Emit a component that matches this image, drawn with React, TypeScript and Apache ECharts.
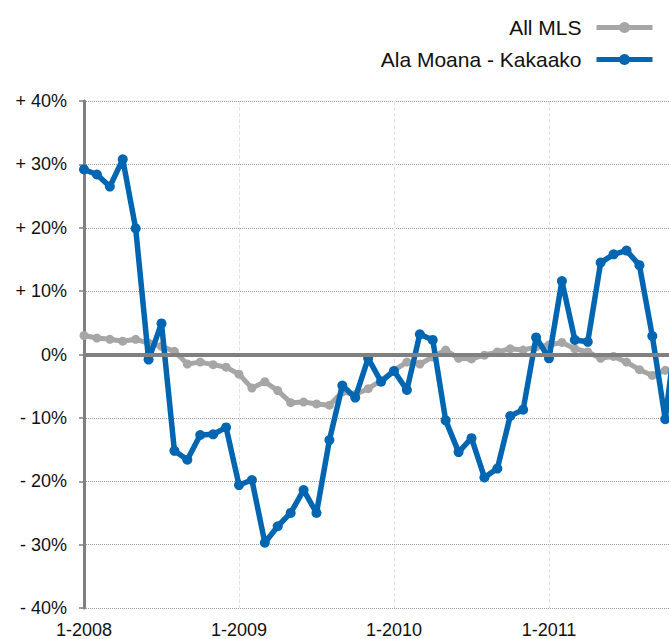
import React, { useEffect, useRef } from "react";
import * as echarts from "echarts";

const seriesNames = ["All MLS", "Ala Moana - Kakaako"];
const yearStart = 2008;
const yTicks = [-40, -30, -20, -10, 0, 10, 20, 30, 40];

// monthly values starting 1-2008 (percent change)
const allMls = [
  3.0, 2.6, 2.4, 2.1, 2.4, 1.8, 1.3, 0.5, -1.5, -1.2, -1.6, -2.0,
  -3.1, -5.3, -4.3, -5.7, -7.6, -7.5, -7.8, -8.0, -5.9, -6.3, -5.4, -4.1,
  -2.5, -1.2, -1.5, -0.4, 0.7, -0.6, -0.7, -0.1, 0.4, 0.9, 0.7, 1.2,
  1.5, 1.9, 0.9, 0.4, -0.6, -0.3, -1.2, -2.4, -3.3, -2.5, -2.3,
];
const alaMoana = [
  29.2, 28.4, 26.5, 30.8, 19.9, -0.8, 4.9, -15.2, -16.6, -12.7, -12.6, -11.5,
  -20.6, -19.8, -29.7, -27.1, -25.0, -21.4, -25.0, -13.5, -4.9, -6.8, -0.6, -4.3,
  -2.6, -5.6, 3.2, 2.3, -10.4, -15.4, -13.2, -19.4, -18.0, -9.7, -8.7, 2.7,
  -0.6, 11.6, 2.3, 2.0, 14.5, 15.8, 16.4, 14.1, 2.9, -10.2, 6.0,
];

const FONT = "'Liberation Sans', Arial, Helvetica, sans-serif";
const CHART_W = 720;

export default function App() {
  const ref = useRef<HTMLDivElement>(null);
  useEffect(() => {
    if (!ref.current) return;
    const chart = echarts.init(ref.current, null, { renderer: "svg", width: CHART_W, height: 639 });
    const fmtY = (v: number) => (v > 0 ? "+ " + v + "%" : v < 0 ? "- " + Math.abs(v) + "%" : "0%");
    chart.setOption({
      animation: false,
      backgroundColor: "#ffffff",
      textStyle: { fontFamily: FONT },
      legend: {
        orient: "vertical",
        right: 14 + (CHART_W - 669) - 5,
        top: 12,
        align: "right",
        itemWidth: 56,
        itemHeight: 14,
        itemGap: 11,
        data: seriesNames,
        lineStyle: { width: 5 },
        textStyle: { fontSize: 21, color: "#111", fontFamily: FONT, padding: [0, 10, 0, 0] },
      },
      grid: { left: 84, width: 620, top: 101, bottom: 31, containLabel: false },
      xAxis: {
        type: "value",
        min: 0,
        max: 48,
        interval: 12,
        axisLine: { show: false },
        axisTick: { show: false },
        axisLabel: {
          fontSize: 18,
          color: "#111",
          margin: 13,
          fontFamily: FONT,
          formatter: (v: number) => (v >= 48 ? "" : "1-" + (yearStart + v / 12)),
        },
        splitLine: { show: true, lineStyle: { color: "#e4e4e4", type: "dashed", width: 1 } },
      },
      yAxis: {
        type: "value",
        min: yTicks[0],
        max: yTicks[yTicks.length - 1],
        interval: 10,
        axisLine: { show: true, lineStyle: { color: "#808080", width: 3 } },
        axisTick: { show: true, length: 5, lineStyle: { color: "#808080", width: 1.5 } },
        axisLabel: { fontSize: 18, color: "#111", margin: 17, fontFamily: FONT, formatter: fmtY },
        splitLine: { show: true, lineStyle: { color: "#9a9a9a", type: "dotted", width: 1 } },
      },
      series: [
        {
          name: "zero",
          type: "line",
          data: [],
          z: 1,
          silent: true,
          markLine: {
            silent: true,
            symbol: "none",
            label: { show: false },
            lineStyle: { color: "#808080", width: 4, type: "solid" },
            data: [{ yAxis: 0 }],
          },
        },
        {
          name: seriesNames[0],
          type: "line",
          z: 3,
          data: allMls.map((v, i) => [i, v]),
          symbol: "circle",
          symbolSize: 9,
          lineStyle: { color: "#a6a6a6", width: 5 },
          itemStyle: { color: "#a6a6a6" },
        },
        {
          name: seriesNames[1],
          type: "line",
          z: 4,
          data: alaMoana.map((v, i) => [i, v]),
          symbol: "circle",
          symbolSize: 10,
          lineStyle: { color: "#0066b1", width: 5.5 },
          itemStyle: { color: "#0066b1" },
        },
      ],
    });
    return () => chart.dispose();
  }, []);
  return (
    <div style={{ position: "fixed", left: 0, top: 0, width: 669, height: 639, overflow: "hidden" }}>
      <div ref={ref} style={{ width: CHART_W, height: 639 }} />
    </div>
  );
}
